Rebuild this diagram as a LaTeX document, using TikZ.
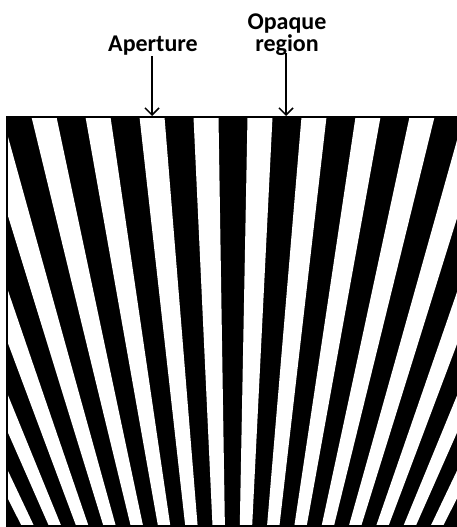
\documentclass[tikz,border=0pt]{standalone}
\usepackage{fontspec}
\setmainfont{Carlito}
\usetikzlibrary{arrows.meta}
\tikzset{
  lbl/.style={inner sep=0pt, font=\bfseries\fontsize{24}{22}\selectfont, align=center},
  pointer/.style={line width=1.5pt, -{Straight Barb[length=7pt,width=14pt,line width=1.5pt]}},
  gap/.style={fill=white, draw=none}
}
\begin{document}
\begin{tikzpicture}[x=1pt,y=-1pt]
\useasboundingbox (0,0) rectangle (456,527);
% mask body
\draw[line width=2pt, fill=black] (7,117) rectangle (460,525.5);
\begin{scope}
  \clip (8,118.5) rectangle (460,524.5);
  \foreach \k in {-10,...,9} {
    \pgfmathsetmacro\tc{260+54*\k}
    \pgfmathsetmacro\bc{246+27.33*\k}
    \fill[gap] (\tc-12.5,117) -- (\tc+12.5,117) -- (\bc+6.2,525) -- (\bc-6.2,525) -- cycle;
  }
\end{scope}
% labels
\node[lbl, anchor=base] (ap) at (153,52) {Aperture};
\node[lbl, anchor=south] (op) at (287,56) {Opaque\\region};
\coordinate (apTip) at (152,116);
\coordinate (opTip) at (286,116);
\draw[pointer] (ap.south -| apTip) -- (apTip);
\draw[pointer] (op.south -| opTip) ++(0,-3) -- (opTip);
\end{tikzpicture}
\end{document}
